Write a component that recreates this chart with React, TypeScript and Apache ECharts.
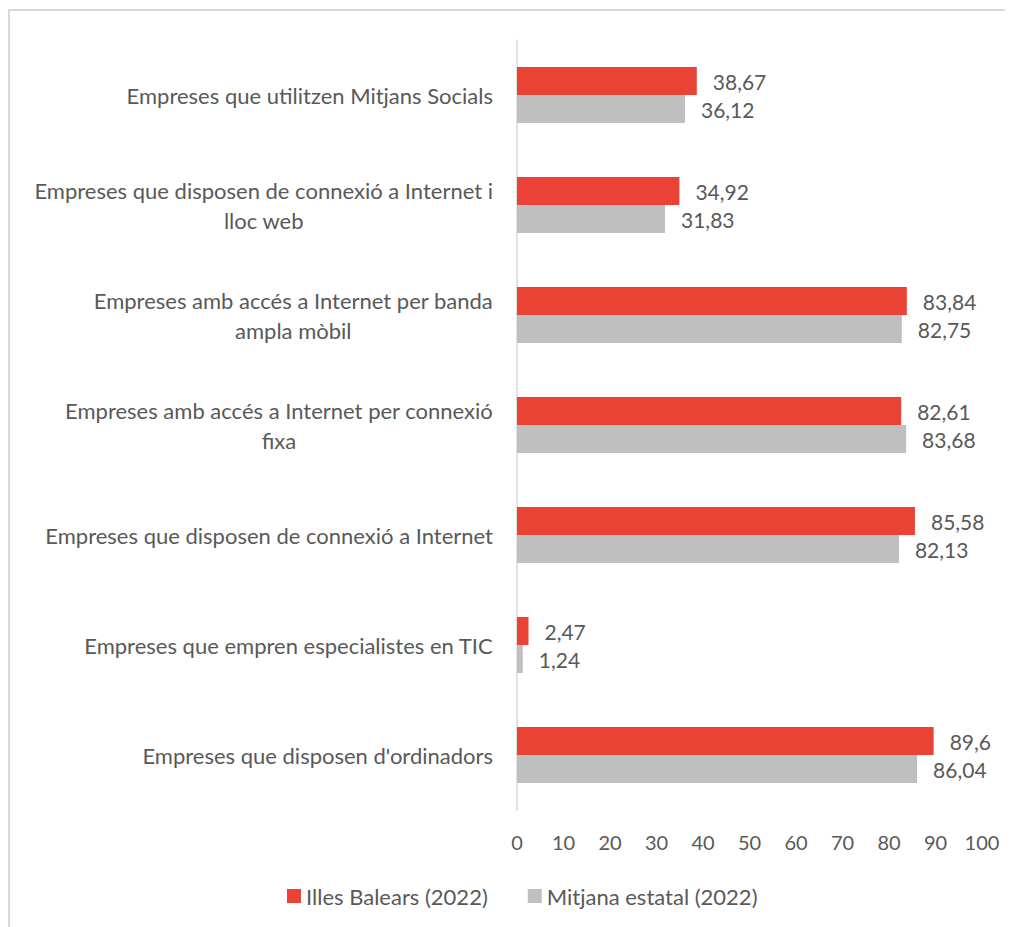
import React, { useEffect, useRef } from "react";
import * as echarts from "echarts";

const categories = [
  "Empreses que utilitzen Mitjans Socials",
  "Empreses que disposen de connexió a Internet i\nlloc web",
  "Empreses amb accés a Internet per banda\nampla mòbil",
  "Empreses amb accés a Internet per connexió\nfixa",
  "Empreses que disposen de connexió a Internet",
  "Empreses que empren especialistes en TIC",
  "Empreses que disposen d'ordinadors",
];
const balearsValues = [38.67, 34.92, 83.84, 82.61, 85.58, 2.47, 89.6];
const estatalValues = [36.12, 31.83, 82.75, 83.68, 82.13, 1.24, 86.04];
const seriesNames = ["Illes Balears (2022)", "Mitjana estatal (2022)"];
const xTicks = { min: 0, max: 100, interval: 10 };

const FONT = "Lato, 'Open Sans', sans-serif";
const TEXT = "#595959";

export default function App() {
  const ref = useRef<HTMLDivElement>(null);
  useEffect(() => {
    if (!ref.current) return;
    const chart = echarts.init(ref.current, null, { renderer: "svg" });
    const fmt = (p: any) => String(p.value).replace(".", ",");
    const labelStyle = {
      show: true,
      position: "right",
      distance: 16,
      formatter: fmt,
      color: TEXT,
      fontSize: 21,
      fontFamily: FONT,
    };
    chart.setOption({
      animation: false,
      textStyle: { fontFamily: FONT },
      graphic: [
        {
          type: "rect",
          shape: { x: 1, y: 2, width: 3000, height: 3000 },
          style: { fill: "none", stroke: "#d9d9d9", lineWidth: 2 },
          silent: true,
        },
      ],
      legend: {
        left: 274,
        top: 872,
        itemWidth: 14,
        itemHeight: 14,
        itemGap: 40,
        icon: "rect",
        textStyle: { fontFamily: FONT, fontSize: 22, color: TEXT },
        data: seriesNames,
      },
      grid: { left: 509, right: 31, top: 32, bottom: 117, containLabel: false },
      xAxis: {
        type: "value",
        min: xTicks.min,
        max: xTicks.max,
        interval: xTicks.interval,
        splitLine: { show: false },
        axisLine: { show: false },
        axisTick: { show: false },
        axisLabel: { color: TEXT, fontSize: 20, fontFamily: FONT, margin: 22 },
      },
      yAxis: {
        type: "category",
        inverse: true,
        data: categories,
        axisLine: { show: true, lineStyle: { color: "#d9d9d9", width: 1.5 } },
        axisTick: { show: false },
        axisLabel: {
          margin: 24,
          align: "right",
          formatter: (v: string) =>
            v
              .split("\n")
              .map((l) => `{c|${l}}`)
              .join("\n"),
          rich: {
            c: {
              align: "center",
              fontSize: 22,
              fontFamily: FONT,
              color: TEXT,
              lineHeight: 30,
            },
          },
        },
      },
      series: [
        {
          name: seriesNames[0],
          type: "bar",
          data: balearsValues,
          barWidth: 28,
          barGap: "0%",
          itemStyle: { color: "#EA4335" },
          label: labelStyle,
        },
        {
          name: seriesNames[1],
          type: "bar",
          data: estatalValues,
          barWidth: 28,
          barGap: "0%",
          itemStyle: { color: "#BFBFBF" },
          label: labelStyle,
        },
      ],
    });
    return () => chart.dispose();
  }, []);
  return <div ref={ref} style={{ width: 1005, height: 919 }} />;
}
